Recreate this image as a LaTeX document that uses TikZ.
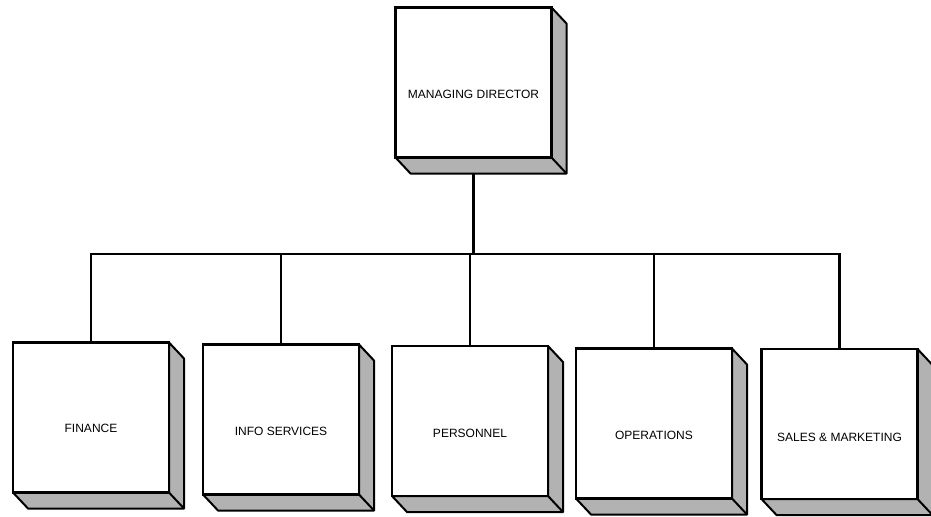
\documentclass[tikz,border=0pt]{standalone}
\usepackage{fontspec}
\setmainfont{Liberation Sans}
\usetikzlibrary{calc}
\tikzset{
  unitbox/.style={draw=black, line width=1.1pt, fill=white, minimum width=78pt, minimum height=75pt, inner sep=0pt, outer sep=0pt},
  lbl/.style={font=\fontsize{6}{7}\selectfont, inner sep=0pt},
  bevel/.style={fill=black!30, draw=black, line width=1pt, line join=round},
  conn/.style={draw=black, line width=1.1pt}
}
\newcommand{\bevelof}[1]{%
  \path[bevel] (#1.north east) -- ($(#1.north east)+(15,16)$) -- ($(#1.south east)+(15,16)$) -- ($(#1.south west)+(15,16)$) -- (#1.south west) -- (#1.south east) -- cycle;
  \draw[line width=1pt] (#1.south east) -- ($(#1.south east)+(15,16)$);
  \draw[line width=1.1pt] (#1.north west) rectangle (#1.south east);
}
\begin{document}
\begin{tikzpicture}[x=0.5pt,y=-0.5pt]
\fill[white] (0,0) rectangle (931,516);
\useasboundingbox (0,0) rectangle (931,516);
\node[unitbox] (md) at (473.5,82.5) {};
\node[unitbox] (fin) at (91,417.5) {};
\node[unitbox] (inf) at (281,419.5) {};
\node[unitbox] (per) at (470,421) {};
\node[unitbox] (ope) at (654,423.5) {};
\node[unitbox] (sal) at (839.5,424) {};
\coordinate (busR) at (839.5,254);
\draw[conn] (fin.north) |- (busR) -- (sal.north);
\draw[conn] (md.south) -- (md.south |- busR);
\draw[conn] (inf.north) -- (inf.north |- busR);
\draw[conn] (per.north) -- (per.north |- busR);
\draw[conn] (ope.north) -- (ope.north |- busR);
\foreach \b in {md,fin,inf,per,ope,sal}{\bevelof{\b}}
\node[lbl] (mdt) at ($(md.center)+(0,12)$) {MANAGING DIRECTOR};
\node[lbl] (fint) at ($(fin.center)+(0,11)$) {FINANCE};
\node[lbl] (inft) at ($(inf.center)+(0,12)$) {INFO SERVICES};
\node[lbl] (pert) at ($(per.center)+(0,12)$) {PERSONNEL};
\node[lbl] (opet) at ($(ope.center)+(0,12)$) {OPERATIONS};
\node[lbl] (salt) at ($(sal.center)+(0,13)$) {SALES \& MARKETING};
\end{tikzpicture}
\end{document}
